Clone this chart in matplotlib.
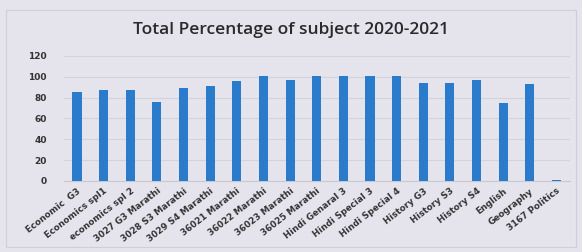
import matplotlib.pyplot as plt
from matplotlib.patches import Rectangle

subjects = ['Economic  G3', 'Economics spl1', 'economics spl 2', '3027 G3 Marathi',
            '3028 S3 Marathi', '3029 S4 Marathi', '36021 Marathi', '36022 Marathi',
            '36023 Marathi', '36025 Marathi', 'Hindi Genaral 3', 'Hindi Special 3',
            'Hindi Special 4', 'History G3', 'History S3', 'History S4', 'English',
            'Geography', '3167 Politics']
percent = [85, 87, 87, 76, 89, 91, 96, 101, 97, 101, 101, 101, 101, 94, 94, 97, 75, 93, 1]
yticks = [0, 20, 40, 60, 80, 100, 120]

bg = '#e5e4ed'
fig = plt.figure(figsize=(5.82, 2.52), dpi=100, facecolor=bg)
fig.patches.append(Rectangle((0.01, 0.02), 0.98, 0.94, transform=fig.transFigure,
                             fill=False, edgecolor='#cfcfd8', linewidth=0.8))

ax = fig.add_axes([0.1094, 0.282, 0.8696, 0.496])
ax.set_facecolor(bg)
x = list(range(len(subjects)))
ax.bar(x, percent, width=0.34, color='#2b7bcc', zorder=3)
ax.set_xlim(-0.5, len(subjects) - 0.5)
ax.set_ylim(0, 120)
ax.set_yticks(yticks)
ax.set_yticklabels([str(v) for v in yticks], fontsize=6.5, fontweight='bold', color='#333333')
ax.set_xticks(x)
ax.set_xticklabels(subjects, rotation=38, ha='right', rotation_mode='anchor',
                   fontsize=6.3, fontweight='bold', color='#333333')
ax.tick_params(axis='x', length=0, pad=4)
ax.tick_params(axis='y', length=0, pad=12)
ax.grid(axis='y', color='#d2d2da', linewidth=0.8, zorder=0)
for s in ['top', 'right', 'left']:
    ax.spines[s].set_visible(False)
ax.spines['bottom'].set_color('#c8c8d0')

fig.text(0.5, 0.88, 'Total Percentage of subject 2020-2021', ha='center', va='center',
         fontsize=12.5, fontweight='semibold', color='#2a2a2a', family='Open Sans')

fig.savefig('out.png', dpi=100, facecolor=bg)
